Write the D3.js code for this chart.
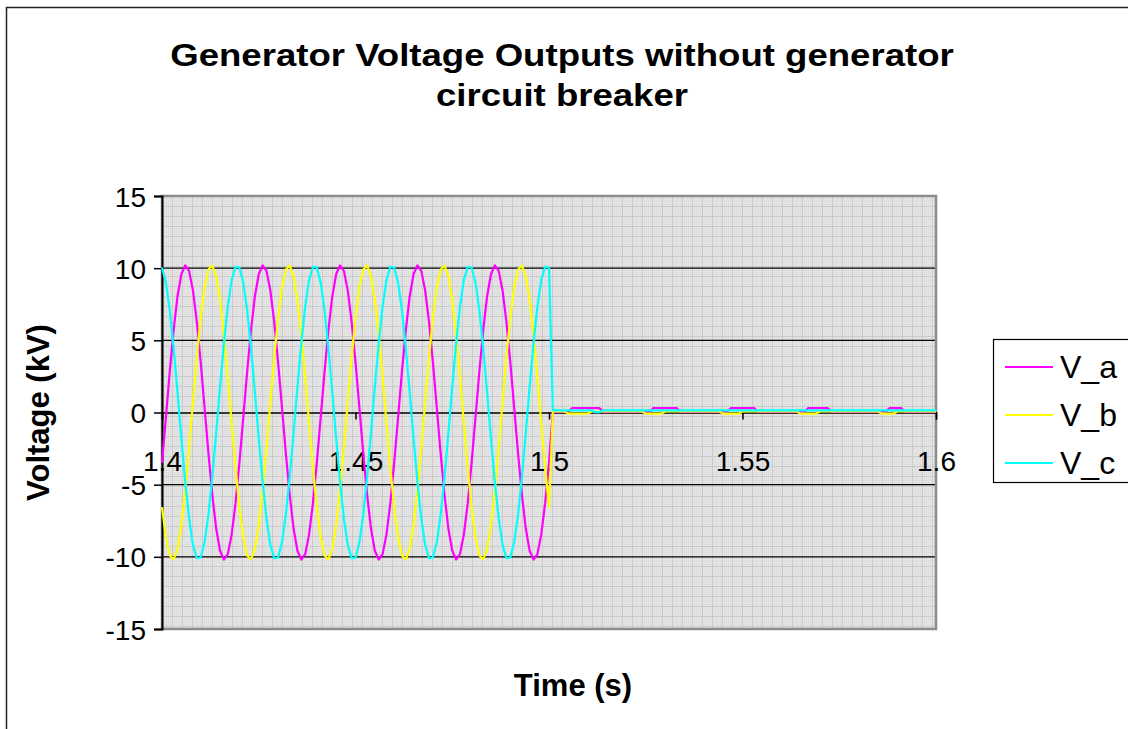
<!DOCTYPE html>
<html>
<head>
<meta charset="utf-8">
<script src="https://cdn.jsdelivr.net/npm/d3@7"></script>
<style>
  body { margin: 0; background: #fff; }
  svg { display: block; font-family: Arial, "Liberation Sans", sans-serif; }
</style>
</head>
<body>
<div id="vis-container"></div>
<script>
const width = 1128;
const height = 729;
const margin = { top: 196, right: 192, bottom: 100, left: 162 };

// sample grid of the simulation output (1 ms), from 1.4 s to 1.6 s
const sampleStart = 1.4;
const sampleStep = 0.001;

const seriesNames = ["V_a", "V_b", "V_c"];
const xTicks = [1.4, 1.45, 1.5, 1.55, 1.6];
const yTicks = [-15, -10, -5, 0, 5, 10, 15];

// kV
const vA = [
  -3.49, -0.36, 2.81, 5.70, 8.04, 9.58, 10.19, 9.81, 8.46, 6.28, 3.49, 0.36, -2.81, -5.70, -8.04, -9.58, -10.19, -9.81, -8.46, -6.28,
  -3.49, -0.36, 2.81, 5.70, 8.04, 9.58, 10.19, 9.81, 8.46, 6.28, 3.49, 0.36, -2.81, -5.70, -8.04, -9.58, -10.19, -9.81, -8.46, -6.28,
  -3.49, -0.36, 2.81, 5.70, 8.04, 9.58, 10.19, 9.81, 8.46, 6.28, 3.49, 0.36, -2.81, -5.70, -8.04, -9.58, -10.19, -9.81, -8.46, -6.28,
  -3.49, -0.36, 2.81, 5.70, 8.04, 9.58, 10.19, 9.81, 8.46, 6.28, 3.49, 0.36, -2.81, -5.70, -8.04, -9.58, -10.19, -9.81, -8.46, -6.28,
  -3.49, -0.36, 2.81, 5.70, 8.04, 9.58, 10.19, 9.81, 8.46, 6.28, 3.49, 0.36, -2.81, -5.70, -8.04, -9.58, -10.19, -9.81, -8.46, -6.28,
  -3.49,
  0.05, 0.05, 0.05, 0.05, 0.05, 0.3, 0.3, 0.3, 0.3, 0.3, 0.3, 0.3, 0.3, 0.05, 0.05, 0.05, 0.05, 0.05, 0.05, 0.05,
  0.05, 0.05, 0.05, 0.05, 0.05, 0.05, 0.3, 0.3, 0.3, 0.3, 0.3, 0.3, 0.3, 0.05, 0.05, 0.05, 0.05, 0.05, 0.05, 0.05,
  0.05, 0.05, 0.05, 0.05, 0.05, 0.05, 0.3, 0.3, 0.3, 0.3, 0.3, 0.3, 0.3, 0.05, 0.05, 0.05, 0.05, 0.05, 0.05, 0.05,
  0.05, 0.05, 0.05, 0.05, 0.05, 0.05, 0.3, 0.3, 0.3, 0.3, 0.3, 0.3, 0.05, 0.05, 0.05, 0.05, 0.05, 0.05, 0.05, 0.05,
  0.05, 0.05, 0.05, 0.05, 0.05, 0.05, 0.05, 0.3, 0.3, 0.3, 0.3, 0.05, 0.05, 0.05, 0.05, 0.05, 0.05, 0.05, 0.05, 0.05
];
const vB = [
  -6.56, -8.65, -9.90, -10.18, -9.46, -7.81, -5.41, -2.47, 0.71, 3.82, 6.56, 8.65, 9.90, 10.18, 9.46, 7.81, 5.41, 2.47, -0.71, -3.82,
  -6.56, -8.65, -9.90, -10.18, -9.46, -7.81, -5.41, -2.47, 0.71, 3.82, 6.56, 8.65, 9.90, 10.18, 9.46, 7.81, 5.41, 2.47, -0.71, -3.82,
  -6.56, -8.65, -9.90, -10.18, -9.46, -7.81, -5.41, -2.47, 0.71, 3.82, 6.56, 8.65, 9.90, 10.18, 9.46, 7.81, 5.41, 2.47, -0.71, -3.82,
  -6.56, -8.65, -9.90, -10.18, -9.46, -7.81, -5.41, -2.47, 0.71, 3.82, 6.56, 8.65, 9.90, 10.18, 9.46, 7.81, 5.41, 2.47, -0.71, -3.82,
  -6.56, -8.65, -9.90, -10.18, -9.46, -7.81, -5.41, -2.47, 0.71, 3.82, 6.56, 8.65, 9.90, 10.18, 9.46, 7.81, 5.41, 2.47, -0.71, -3.82,
  -6.56,
  0.07, 0.07, 0.07, 0.07, -0.08, -0.08, -0.08, -0.08, -0.08, -0.08, 0.07, 0.07, 0.07, 0.07, 0.07, 0.07, 0.07, 0.07, 0.07, 0.07,
  0.07, 0.07, 0.07, 0.07, -0.08, -0.08, -0.08, -0.08, -0.08, 0.07, 0.07, 0.07, 0.07, 0.07, 0.07, 0.07, 0.07, 0.07, 0.07, 0.07,
  0.07, 0.07, 0.07, 0.07, -0.08, -0.08, -0.08, -0.08, -0.08, 0.07, 0.07, 0.07, 0.07, 0.07, 0.07, 0.07, 0.07, 0.07, 0.07, 0.07,
  0.07, 0.07, 0.07, 0.07, -0.08, -0.08, -0.08, -0.08, -0.08, 0.07, 0.07, 0.07, 0.07, 0.07, 0.07, 0.07, 0.07, 0.07, 0.07, 0.07,
  0.07, 0.07, 0.07, 0.07, 0.07, -0.08, -0.08, -0.08, -0.08, 0.07, 0.07, 0.07, 0.07, 0.07, 0.07, 0.07, 0.07, 0.07, 0.07, 0.07
];
const vC = [
  10.05, 9.01, 7.09, 4.47, 1.42, -1.77, -4.79, -7.34, -9.17, -10.10, -10.05, -9.01, -7.09, -4.47, -1.42, 1.77, 4.79, 7.34, 9.17, 10.10,
  10.05, 9.01, 7.09, 4.47, 1.42, -1.77, -4.79, -7.34, -9.17, -10.10, -10.05, -9.01, -7.09, -4.47, -1.42, 1.77, 4.79, 7.34, 9.17, 10.10,
  10.05, 9.01, 7.09, 4.47, 1.42, -1.77, -4.79, -7.34, -9.17, -10.10, -10.05, -9.01, -7.09, -4.47, -1.42, 1.77, 4.79, 7.34, 9.17, 10.10,
  10.05, 9.01, 7.09, 4.47, 1.42, -1.77, -4.79, -7.34, -9.17, -10.10, -10.05, -9.01, -7.09, -4.47, -1.42, 1.77, 4.79, 7.34, 9.17, 10.10,
  10.05, 9.01, 7.09, 4.47, 1.42, -1.77, -4.79, -7.34, -9.17, -10.10, -10.05, -9.01, -7.09, -4.47, -1.42, 1.77, 4.79, 7.34, 9.17, 10.10,
  10.05,
  0.15, 0.15, 0.15, 0.15, 0.15, 0.15, 0.15, 0.15, 0.15, 0.15, 0.15, 0.02, 0.02, 0.15, 0.15, 0.15, 0.15, 0.15, 0.15, 0.15,
  0.15, 0.15, 0.15, 0.15, 0.15, 0.15, 0.15, 0.15, 0.15, 0.15, 0.15, 0.15, 0.15, 0.15, 0.15, 0.15, 0.15, 0.15, 0.15, 0.15,
  0.15, 0.15, 0.15, 0.15, 0.15, 0.15, 0.15, 0.15, 0.15, 0.15, 0.15, 0.15, 0.15, 0.15, 0.15, 0.15, 0.15, 0.15, 0.15, 0.15,
  0.15, 0.15, 0.15, 0.15, 0.15, 0.15, 0.15, 0.15, 0.15, 0.15, 0.15, 0.15, 0.15, 0.15, 0.15, 0.15, 0.15, 0.15, 0.15, 0.15,
  0.15, 0.15, 0.15, 0.15, 0.15, 0.15, 0.15, 0.15, 0.15, 0.15, 0.15, 0.15, 0.15, 0.15, 0.15, 0.15, 0.15, 0.15, 0.15, 0.15
];

const seriesValues = [vA, vB, vC];
const seriesColors = ["#ff00ff", "#ffff00", "#00ffff"];

const svg = d3.select("#vis-container")
  .append("svg")
  .attr("width", width)
  .attr("height", height)
  .attr("viewBox", [0, 0, width, height]);

// chart frame
svg.append("rect")
  .attr("x", 6.5).attr("y", 7.5)
  .attr("width", 1130).attr("height", 730)
  .attr("fill", "#fff")
  .attr("stroke", "#222")
  .attr("stroke-width", 1.5);

const x = d3.scaleLinear()
  .domain([1.4, 1.6])
  .range([margin.left, width - margin.right]);

const y = d3.scaleLinear()
  .domain([-15, 15])
  .range([height - margin.bottom, margin.top]);

// plot-area fill: excel style grid pattern
const defs = svg.append("defs");
const pat = defs.append("pattern")
  .attr("id", "gridfill")
  .attr("patternUnits", "userSpaceOnUse")
  .attr("x", margin.left).attr("y", margin.top)
  .attr("width", 10).attr("height", 10);
pat.append("rect").attr("width", 10).attr("height", 10).attr("fill", "#e4e4e4");
pat.append("rect").attr("x", 0).attr("y", 0).attr("width", 10).attr("height", 1).attr("fill", "#cacaca");
pat.append("rect").attr("x", 0).attr("y", 0).attr("width", 1).attr("height", 10).attr("fill", "#cacaca");
for (let i = 2; i < 10; i += 2) {
  for (let j = 2; j < 10; j += 2) {
    pat.append("rect").attr("x", i).attr("y", j).attr("width", 1).attr("height", 1).attr("fill", "#d9d9d9");
  }
}

svg.append("rect")
  .attr("x", x(1.4)).attr("y", y(15))
  .attr("width", x(1.6) - x(1.4)).attr("height", y(-15) - y(15))
  .attr("fill", "url(#gridfill)");

// major gridlines
svg.append("g")
  .selectAll("line")
  .data(yTicks.filter(d => d !== 0 && Math.abs(d) !== 15))
  .enter()
  .append("line")
  .attr("x1", x(1.4)).attr("x2", x(1.6))
  .attr("y1", d => y(d)).attr("y2", d => y(d))
  .attr("stroke", "#000")
  .attr("stroke-width", 1.2);

// plot area border (grey)
svg.append("rect")
  .attr("x", x(1.4)).attr("y", y(15))
  .attr("width", x(1.6) - x(1.4)).attr("height", y(-15) - y(15))
  .attr("fill", "none")
  .attr("stroke", "#8c8c8c")
  .attr("stroke-width", 2.5);

// y axis
svg.append("g")
  .attr("transform", `translate(${x(1.4)},0)`)
  .call(d3.axisLeft(y).tickValues(yTicks).tickSize(8).tickPadding(8).tickFormat(d => String(d)))
  .call(g => g.select(".domain").attr("stroke", "#000").attr("stroke-width", 2))
  .call(g => g.selectAll(".tick line").attr("stroke", "#000").attr("stroke-width", 1.5))
  .call(g => g.selectAll(".tick text")
    .attr("font-size", "28px")
    .attr("font-family", "Arial, 'Liberation Sans', sans-serif")
    .attr("fill", "#000")
    .attr("dy", "0.36em"));

// x axis sits at 0 kV
svg.append("g")
  .attr("transform", `translate(0,${y(0)})`)
  .call(d3.axisBottom(x).tickValues(xTicks).tickSize(7).tickFormat(d => String(d)))
  .call(g => g.select(".domain").attr("stroke", "#000").attr("stroke-width", 1.5))
  .call(g => g.selectAll(".tick line").attr("stroke", "#000").attr("stroke-width", 1.5))
  .call(g => g.selectAll(".tick text")
    .attr("font-size", "28px")
    .attr("font-family", "Arial, 'Liberation Sans', sans-serif")
    .attr("fill", "#000")
    .attr("dy", 0)
    .attr("y", 58));

// series
const times = d3.range(vA.length).map(i => sampleStart + i * sampleStep);
const line = d3.line()
  .x((d, i) => x(times[i]))
  .y(d => y(d));

svg.append("g")
  .selectAll("path")
  .data(seriesValues)
  .enter()
  .append("path")
  .attr("d", d => line(d))
  .attr("fill", "none")
  .attr("stroke", (d, i) => seriesColors[i])
  .attr("stroke-width", 2.2)
  .attr("stroke-linejoin", "round");

// title (the original is drawn a bit wider than plain Arial)
const title = svg.append("text")
  .attr("transform", "translate(562,0) scale(1.18,1)")
  .attr("text-anchor", "middle")
  .attr("font-weight", "bold")
  .attr("font-size", "31px")
  .attr("fill", "#000");
title.append("tspan").attr("x", 0).attr("y", 66).text("Generator Voltage Outputs without generator");
title.append("tspan").attr("x", 0).attr("y", 106).text("circuit breaker");

// axis titles
svg.append("text")
  .attr("x", 573).attr("y", 696)
  .attr("text-anchor", "middle")
  .attr("font-weight", "bold")
  .attr("font-size", "31px")
  .text("Time (s)");

svg.append("text")
  .attr("transform", `translate(49,${y(0)}) rotate(-90)`)
  .attr("text-anchor", "middle")
  .attr("font-weight", "bold")
  .attr("font-size", "31px")
  .text("Voltage (kV)");

// legend
const legend = svg.append("g");
legend.append("rect")
  .attr("x", 993.5).attr("y", 339.5)
  .attr("width", 150).attr("height", 143)
  .attr("fill", "#fff")
  .attr("stroke", "#000")
  .attr("stroke-width", 1.2);

const rowY = [367, 415, 463];
const rows = legend.selectAll(".row")
  .data(seriesNames)
  .enter()
  .append("g")
  .attr("class", "row")
  .attr("transform", (d, i) => `translate(0,${rowY[i]})`);

rows.append("line")
  .attr("x1", 1005).attr("x2", 1053)
  .attr("y1", 0).attr("y2", 0)
  .attr("stroke", (d, i) => seriesColors[i])
  .attr("stroke-width", 2.2);

rows.append("text")
  .attr("x", 1060).attr("y", 11)
  .attr("font-size", "32px")
  .text(d => d);
</script>
</body>
</html>
